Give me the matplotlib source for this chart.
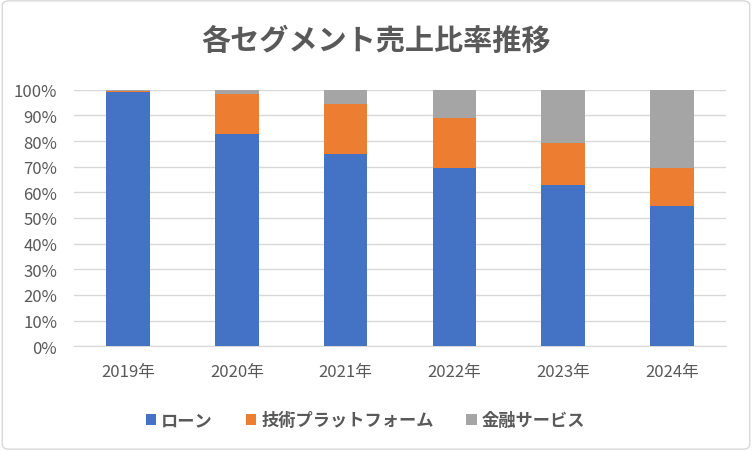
import matplotlib
matplotlib.use("Agg")
import matplotlib.pyplot as plt
from matplotlib.ticker import PercentFormatter
from matplotlib.patches import FancyBboxPatch

plt.rcParams['font.family'] = ['Noto Sans CJK JP', 'DejaVu Sans']

years = ["2019年", "2020年", "2021年", "2022年", "2023年", "2024年"]
loan = [99.3, 82.8, 75.1, 69.6, 62.9, 54.8]
tech = [0.1, 15.4, 19.2, 19.6, 16.5, 14.8]
fin = [0.6, 1.8, 5.7, 10.8, 20.6, 30.4]

names = ["ローン", "技術プラットフォーム", "金融サービス"]
colors = ["#4472C4", "#ED7D31", "#A5A5A5"]
text_c = "#595959"

fig = plt.figure(figsize=(7.52, 4.52), dpi=100)
ax = fig.add_axes([0.098, 0.232, 0.868, 0.567])

x = range(len(years))
bottom = [0] * len(years)
for vals, name, col in zip([loan, tech, fin], names, colors):
    ax.bar(x, vals, 0.4, bottom=bottom, color=col, label=name, zorder=3)
    bottom = [b + v for b, v in zip(bottom, vals)]

ax.set_ylim(0, 100)
ax.set_xlim(-0.5, len(years) - 0.5)
ax.set_yticks(range(0, 101, 10))
ax.yaxis.set_major_formatter(PercentFormatter(decimals=0))
ax.set_xticks(list(x))
ax.set_xticklabels(years)
ax.grid(axis="y", color="#D9D9D9", linewidth=1, zorder=0)
for s in ["top", "right", "left"]:
    ax.spines[s].set_visible(False)
ax.spines["bottom"].set_color("#D9D9D9")
ax.tick_params(axis="both", length=0, labelsize=12, colors=text_c)
ax.tick_params(axis="x", pad=12)
ax.tick_params(axis="y", pad=12)

fig.text(0.5, 0.91, "各セグメント売上比率推移", ha="center", va="center",
         fontsize=21, color=text_c, fontweight="bold")

fig.legend(loc="center", bbox_to_anchor=(0.486, 0.068), ncol=3, frameon=False,
           handlelength=0.6, handleheight=0.6, columnspacing=1.9,
           handletextpad=0.3, labelcolor=text_c,
           prop={'weight': 'bold', 'size': 12.4})

border = FancyBboxPatch((0.003, 0.004), 0.994, 0.992, boxstyle="round,pad=0,rounding_size=0.01",
                        transform=fig.transFigure, fill=False, edgecolor="#D9D9D9", linewidth=1)
fig.patches.append(border)

fig.savefig("out.png", dpi=100)
